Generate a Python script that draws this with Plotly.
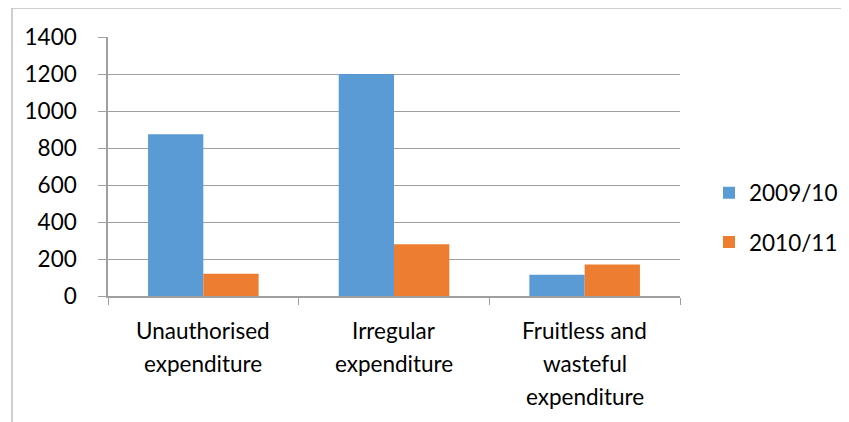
import plotly.graph_objects as go

categories = ["Unauthorised expenditure", "Irregular expenditure", "Fruitless and wasteful expenditure"]
label_lines = [["Unauthorised", "expenditure"], ["Irregular", "expenditure"], ["Fruitless and", "wasteful", "expenditure"]]
series_names = ["2009/10", "2010/11"]
values_2009 = [875, 1200, 115]
values_2010 = [120, 280, 170]
y_ticks = [0, 200, 400, 600, 800, 1000, 1200, 1400]

FONT = "Lato"
GRID = "#a0a0a0"

fig = go.Figure()
fig.add_trace(go.Bar(x=categories, y=values_2009, name=series_names[0],
                     marker=dict(color="#5B9BD5", line=dict(width=0)), legendgroup="a"))
fig.add_trace(go.Bar(x=categories, y=values_2010, name=series_names[1],
                     marker=dict(color="#ED7D31", line=dict(width=0)), legendgroup="b"))

annotations = []
for cat, lines in zip(categories, label_lines):
    for i, ln in enumerate(lines):
        annotations.append(dict(x=cat, xref="x", y=0, yref="paper", text=ln, showarrow=False,
                                xanchor="center", yanchor="middle", yshift=-34 - 33 * i,
                                font=dict(family=FONT, size=22.5, color="#000")))

PL, PT, PW, PH = 100, 29, 572, 259
fig.update_layout(
    width=849, height=422,
    margin=dict(l=PL, r=849 - PL - PW, t=PT, b=422 - PT - PH),
    paper_bgcolor="white", plot_bgcolor="white",
    barmode="group", bargap=0.42, bargroupgap=0,
    font=dict(family=FONT, size=22.5, color="#000"),
    xaxis=dict(showticklabels=False, ticks="outside", ticklen=7, tickcolor=GRID,
               tickson="boundaries", showline=True, linecolor=GRID, linewidth=1.5,
               showgrid=False, zeroline=False),
    yaxis=dict(range=[0, 1400], tickvals=y_ticks, ticks="outside", ticklen=8, tickcolor=GRID,
               showline=True, linecolor=GRID, linewidth=1.5, showgrid=True, gridcolor=GRID,
               gridwidth=1.2, zeroline=False, ticklabelstandoff=17,
               tickfont=dict(family=FONT, size=22.5, color="#000")),
    legend=dict(x=(701 - PL) / PW, xanchor="left", y=0.303, yanchor="middle",
                traceorder="grouped", tracegroupgap=17,
                font=dict(family=FONT, size=22.5, color="#000"), bgcolor="rgba(0,0,0,0)"),
    annotations=annotations,
    shapes=[dict(type="rect", xref="paper", yref="paper",
                 x0=(4 - PL) / PW, x1=(870 - PL) / PW,
                 y0=(PT + PH - 440) / PH, y1=(PT + PH - 0) / PH,
                 line=dict(color="#bfbfbf", width=1.5), layer="below")],
)

fig.write_html("out.html")
